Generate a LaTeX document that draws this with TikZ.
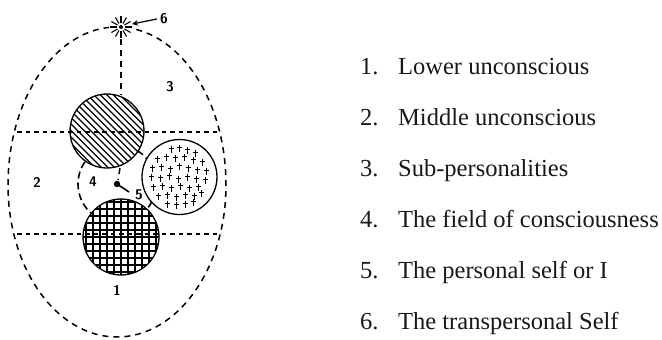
\documentclass[tikz,border=0pt]{standalone}
\usepackage{fontspec}
\setmainfont{Liberation Serif}
\usetikzlibrary{arrows.meta}
\begin{document}
\begin{tikzpicture}[x=1pt,y=-1pt,
  eggline/.style={line width=1.5pt,dash pattern=on 6pt off 5pt},
  divline/.style={line width=1.2pt,dash pattern=on 4.5pt off 4pt},
  fieldline/.style={line width=1.6pt,dash pattern=on 7pt off 4pt},
  ring/.style={line width=1.3pt},
  hand/.style={font=\sffamily\bfseries\fontsize{14}{14}\selectfont,inner sep=0pt},
  item/.style={font=\fontsize{24.5}{26}\selectfont,anchor=base west,inner sep=0pt,text=black!90},
]
\useasboundingbox (0,0) rectangle (662,340);

% key points
\coordinate (star) at (121,27);
\coordinate (starr) at (132,24);
\coordinate (hc) at (107,131);
\coordinate (pc) at (179.5,177);
\coordinate (gc) at (121,237);
\coordinate (self) at (117,184);
\coordinate (selfend) at (129,192);
\coordinate (axtop) at (121,39);
\coordinate (axbot) at (121,95);
\coordinate (axlow1) at (120,168);
\coordinate (axlow2) at (118,180);
\coordinate (d1l) at (17,132);
\coordinate (d1r) at (221,132);
\coordinate (d2l) at (17,234);
\coordinate (d2r) at (221,234);

% egg
\draw[eggline] (8,185) arc[start angle=180,end angle=0,x radius=109pt,y radius=158pt]
  arc[start angle=0,end angle=-180,x radius=109pt,y radius=152pt];

% field of consciousness
\draw[fieldline] (self) circle[radius=39pt];

% axis
\draw[eggline] (axtop) -- (axbot);
\draw[eggline] (axlow1) -- (axlow2);

% hatched circle (sub-personality)
\fill[white] (hc) circle[radius=37pt];
\begin{scope}[shift={(107,131)}]
  \clip (0,0) circle[radius=37pt];
  \foreach \k in {-126,-119.5,...,44} \draw[line width=1.1pt] (\k,-45) -- ++(90,90);
\end{scope}
\draw[ring] (hc) circle[radius=37pt];

% plus circle
\fill[white] (pc) circle[radius=37.5pt];
\begin{scope}[shift={(179.5,177)}]
  \foreach \x/\y in {-8/-28,0/-29,8/-27,16/-24,
     -22/-18,-13/-20,-4/-19,5/-20,14/-17,23/-15,
     -27/-9,-18/-10,-9/-8,0/-11,9/-9,18/-7,27/-6,
     -28/0,-19/1,-10/-1,-1/2,8/0,17/2,26/3,
     -26/10,-17/9,-8/11,1/9,10/11,19/10,
     -21/19,-12/18,-3/20,6/18,15/19,22/16,
     -12/27,-3/28,6/27,14/25}
  {
    \draw[line width=1pt] (\x,\y-3.5) -- (\x,\y+3.5);
    \draw[line width=1pt] (\x-2.5,\y-1) -- (\x+2.5,\y-1);
  }
\end{scope}
\draw[ring] (pc) circle[radius=37.5pt];

% grid circle
\fill[white] (gc) circle[radius=38pt];
\begin{scope}[shift={(121,237)}]
  \clip (0,0) circle[radius=38pt];
  \foreach \k in {-42,-35,...,42} {
    \draw[line width=1.3pt] (\k,-40) -- (\k,40);
    \draw[line width=1.3pt] (-40,\k) -- (40,\k);
  }
\end{scope}
\draw[ring] (gc) circle[radius=38pt];

% dividers
\draw[divline] (d1l) -- (d1r);
\draw[divline] (d2l) -- (d2r);

% personal self
\fill (self) circle[radius=3.2pt];
\draw[line width=1.6pt] (self) -- (selfend);

% transpersonal self
\fill[white] (star) circle[radius=12pt];
\foreach \a in {0,30,...,330}
  \draw[line width=1.1pt] (star) ++(\a:4pt) -- ++(\a:7pt);
\fill (star) circle[radius=2pt];

% labels in the egg
\node[hand] (six) at (164,19) {6};
\draw[line width=1.2pt,-{Stealth[length=6pt,width=5.5pt]}] ([xshift=-3pt]six.west) -- (starr);
\node[hand] (l1) at (117,290) {1};
\node[hand] (l2) at (37,182) {2};
\node[hand] (l3) at (170,87) {3};
\node[hand] (l4) at (93,182) {4};
\node[hand] (l5) at (139,195) {5};

% list
\node[item] (n1) at (360,74) {1.};
\node[item] (t1) at (398,74) {Lower unconscious};
\node[item] (n2) at (360,125) {2.};
\node[item] (t2) at (398,125) {Middle unconscious};
\node[item] (n3) at (360,176) {3.};
\node[item] (t3) at (398,176) {Sub-personalities};
\node[item] (n4) at (360,227) {4.};
\node[item] (t4) at (398,227) {The field of consciousness};
\node[item] (n5) at (360,278) {5.};
\node[item] (t5) at (398,278) {The personal self or I};
\node[item] (n6) at (360,329) {6.};
\node[item] (t6) at (398,329) {The transpersonal Self};
\end{tikzpicture}
\end{document}
